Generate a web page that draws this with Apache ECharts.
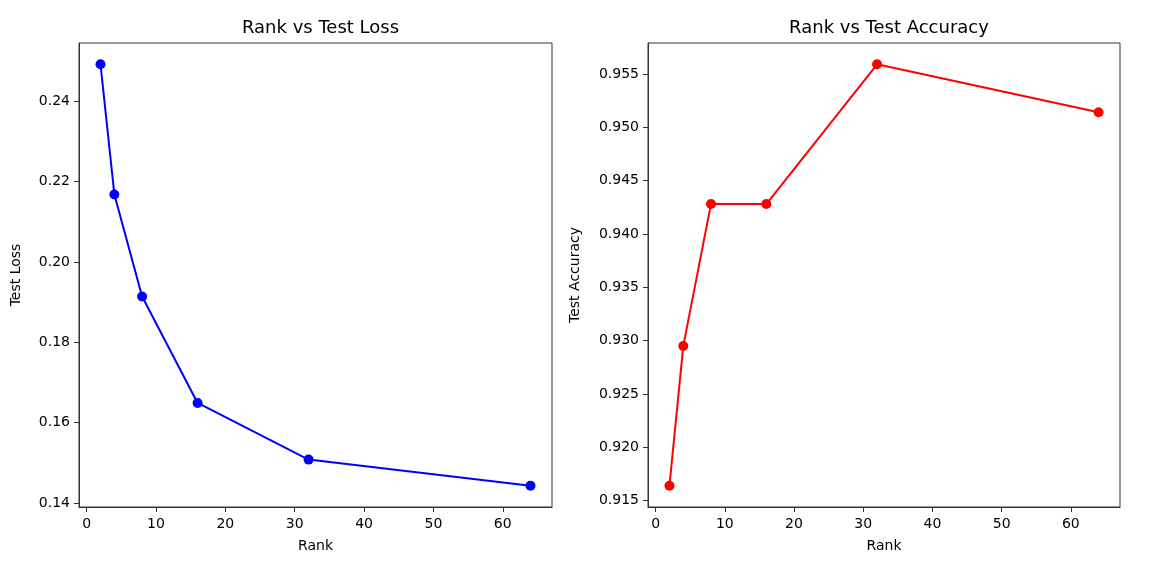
<!DOCTYPE html>
<html lang="en">
<head>
    <meta charset="UTF-8">
    <title>Rank vs Test Loss / Accuracy</title>
    <script src="https://cdn.jsdelivr.net/npm/echarts@6.0.0/dist/echarts.min.js"></script>
    <style>
        html, body { margin: 0; padding: 0; background: #fff; }
        #main { width: 1160px; height: 582px; }
    </style>
</head>
<body>
<div id="main"></div>
<script>
    // values
    var ranks = [2, 4, 8, 16, 32, 64];
    var testLoss = [0.2492, 0.2168, 0.1914, 0.1649, 0.1508, 0.1443];
    var testAcc = [0.9164, 0.9295, 0.9428, 0.9428, 0.9559, 0.9514];

    var rankTicks = [0, 10, 20, 30, 40, 50, 60];
    var lossTicks = [0.14, 0.16, 0.18, 0.20, 0.22, 0.24];
    var accTicks = [0.915, 0.920, 0.925, 0.930, 0.935, 0.940, 0.945, 0.950, 0.955];

    var font = 'DejaVu Sans';
    var frame = '#333';

    function pairs(xs, ys) {
        return xs.map(function (x, i) { return [x, ys[i]]; });
    }

    function xAxisFor(gridIndex) {
        return {
            type: 'value', gridIndex: gridIndex,
            min: -1.1, max: 67.1,
            name: 'Rank', nameLocation: 'middle', nameGap: 32,
            nameTextStyle: { fontFamily: font, fontSize: 14, color: '#000' },
            axisLine: { show: true, onZero: false, lineStyle: { color: frame, width: 1 } },
            axisTick: { show: true, inside: false, length: 5, customValues: rankTicks, lineStyle: { color: frame } },
            axisLabel: { customValues: rankTicks, margin: 10, fontFamily: font, fontSize: 14, color: '#000' },
            splitLine: { show: false }
        };
    }

    function yAxisFor(gridIndex, name, min, max, ticks, digits, gap) {
        return {
            type: 'value', gridIndex: gridIndex,
            min: min, max: max,
            name: name, nameLocation: 'middle', nameGap: gap,
            nameTextStyle: { fontFamily: font, fontSize: 14, color: '#000' },
            axisLine: { show: true, onZero: false, lineStyle: { color: frame, width: 1 } },
            axisTick: { show: true, inside: false, length: 5, customValues: ticks, lineStyle: { color: frame } },
            axisLabel: {
                customValues: ticks, margin: 9, fontFamily: font, fontSize: 14, color: '#000',
                formatter: function (v) { return v.toFixed(digits); }
            },
            splitLine: { show: false }
        };
    }

    var chart = echarts.init(document.getElementById('main'), null, { renderer: 'canvas' });

    chart.setOption({
        backgroundColor: '#fff',
        animation: false,
        title: [
            { text: 'Rank vs Test Loss', left: 315.5, top: 14, textAlign: 'center',
              textStyle: { fontFamily: font, fontSize: 18, fontWeight: 'normal', color: '#000' } },
            { text: 'Rank vs Test Accuracy', left: 884, top: 14, textAlign: 'center',
              textStyle: { fontFamily: font, fontSize: 18, fontWeight: 'normal', color: '#000' } }
        ],
        grid: [
            { left: 79, top: 43, width: 473, height: 464, show: true, borderColor: frame, borderWidth: 1, containLabel: false },
            { left: 648, top: 43, width: 472, height: 464, show: true, borderColor: frame, borderWidth: 1, containLabel: false }
        ],
        xAxis: [xAxisFor(0), xAxisFor(1)],
        yAxis: [
            yAxisFor(0, 'Test Loss', 0.1390, 0.2545, lossTicks, 2, 56),
            yAxisFor(1, 'Test Accuracy', 0.9144, 0.9579, accTicks, 3, 66)
        ],
        series: [
            {
                type: 'line', xAxisIndex: 0, yAxisIndex: 0,
                data: pairs(ranks, testLoss),
                symbol: 'circle', symbolSize: 10, showSymbol: true,
                lineStyle: { color: '#0000ff', width: 2 },
                itemStyle: { color: '#0000ff' }
            },
            {
                type: 'line', xAxisIndex: 1, yAxisIndex: 1,
                data: pairs(ranks, testAcc),
                symbol: 'circle', symbolSize: 10, showSymbol: true,
                lineStyle: { color: '#ff0000', width: 2 },
                itemStyle: { color: '#ff0000' }
            }
        ]
    });
</script>
</body>
</html>
